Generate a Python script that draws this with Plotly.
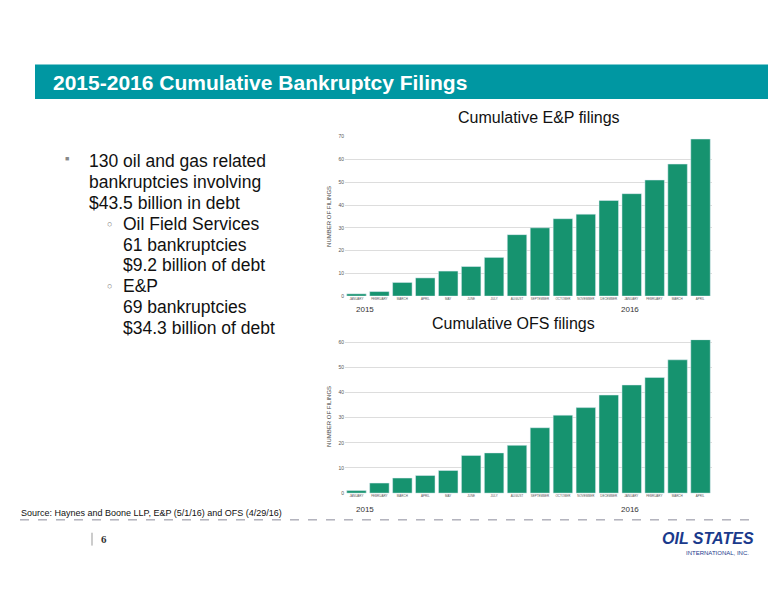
import plotly.graph_objects as go

months = ["JANUARY", "FEBRUARY", "MARCH", "APRIL", "MAY", "JUNE", "JULY", "AUGUST",
          "SEPTEMBER", "OCTOBER", "NOVEMBER", "DECEMBER",
          "JANUARY ", "FEBRUARY ", "MARCH ", "APRIL "]
ep_filings = [1, 2, 6, 8, 11, 13, 17, 27, 30, 34, 36, 42, 45, 51, 58, 69]
ofs_filings = [1, 4, 6, 7, 9, 15, 16, 19, 26, 31, 34, 39, 43, 46, 53, 61]

W, H = 776, 600
OFF = 8  # page body margin
def px_x(x): return (x - OFF) / W
def px_y(y): return 1 - (y - OFF) / H

bar_color = "#16936f"
fig = go.Figure()
fig.add_trace(go.Bar(x=months, y=ep_filings, marker_color=bar_color, xaxis="x", yaxis="y"))
fig.add_trace(go.Bar(x=months, y=ofs_filings, marker_color=bar_color, xaxis="x2", yaxis="y2"))

axis_common = dict(tickfont=dict(size=3, color="#555"), showline=False, ticks="")
ytitle = dict(text="NUMBER OF FILINGS", font=dict(size=6, color="#444"), standoff=6)
fig.update_layout(
    width=W, height=H, margin=dict(l=0, r=0, t=0, b=0),
    paper_bgcolor="white", plot_bgcolor="white", showlegend=False, bargap=0.15,
    font=dict(family="Liberation Sans"),
    xaxis=dict(domain=[px_x(345), px_x(712)], anchor="y", tickangle=0, showgrid=False, **axis_common),
    yaxis=dict(domain=[px_y(296), px_y(135)], anchor="x", range=[0, 70], dtick=10,
               gridcolor="#ddd", title=ytitle, **axis_common),
    xaxis2=dict(domain=[px_x(345), px_x(712)], anchor="y2", tickangle=0, showgrid=False, **axis_common),
    yaxis2=dict(domain=[px_y(495), px_y(340)], anchor="x2", range=[0, 61], dtick=10,
                gridcolor="#ddd", title=ytitle, **axis_common),
)
fig.update_yaxes(tickfont_size=5)

fig.update_layout(shapes=[
    dict(type="rect", xref="paper", yref="paper", x0=px_x(35), x1=1, y0=px_y(97), y1=px_y(62),
         fillcolor="#0097a2", line_width=0),
    dict(type="line", xref="paper", yref="paper", x0=px_x(20), x1=px_x(758), y0=px_y(522), y1=px_y(522),
         line=dict(color="#8a8a99", width=1, dash="dash")),
    dict(type="line", xref="paper", yref="paper", x0=px_x(92), x1=px_x(92), y0=px_y(548), y1=px_y(535),
         line=dict(color="#999", width=1)),
])

def note(x, y, text, size, color="#111", xanchor="left", family="Liberation Sans"):
    fig.add_annotation(xref="paper", yref="paper", x=px_x(x), y=px_y(y), text=text,
                       showarrow=False, xanchor=xanchor, yanchor="middle", borderpad=0,
                       font=dict(size=size, color=color, family=family))

note(52, 80, "<b>2015-2016 Cumulative Bankruptcy Filings</b>", 21, "white")
note(621, 116, "Cumulative E&P filings", 16, xanchor="right")
note(596, 324, "Cumulative OFS filings", 16, xanchor="right")
note(355, 310, "2015", 8, "#333")
note(620, 310, "2016", 8, "#333")
note(355, 512, "2015", 8, "#333")
note(620, 512, "2016", 8, "#333")

note(64, 157, "■", 7, "#888")
note(106, 223, "○", 9, "#777")
note(106, 286, "○", 9, "#777")
bullets = [(88, 160, "130 oil and gas related"), (88, 181, "bankruptcies involving"),
           (88, 202, "$43.5 billion in debt"), (122, 223, "Oil Field Services"),
           (122, 244, "61 bankruptcies"), (122, 265, "$9.2 billion of debt"),
           (122, 286, "E&P"), (122, 307, "69 bankruptcies"),
           (122, 328, "$34.3 billion of debt")]
for x, y, t in bullets:
    note(x, y, t, 17.5)

note(20, 515, "Source: Haynes and Boone LLP, E&P (5/1/16) and OFS (4/29/16)", 9)
note(100, 541, "<b>6</b>", 11, "#333", family="Liberation Serif")
note(755, 541, "<b><i>OIL STATES</i></b>", 16, "#1a3a8c", xanchor="right")
note(750, 555, "INTERNATIONAL, INC.", 6, "#1a3a8c", xanchor="right")

fig.write_html("out.html")
